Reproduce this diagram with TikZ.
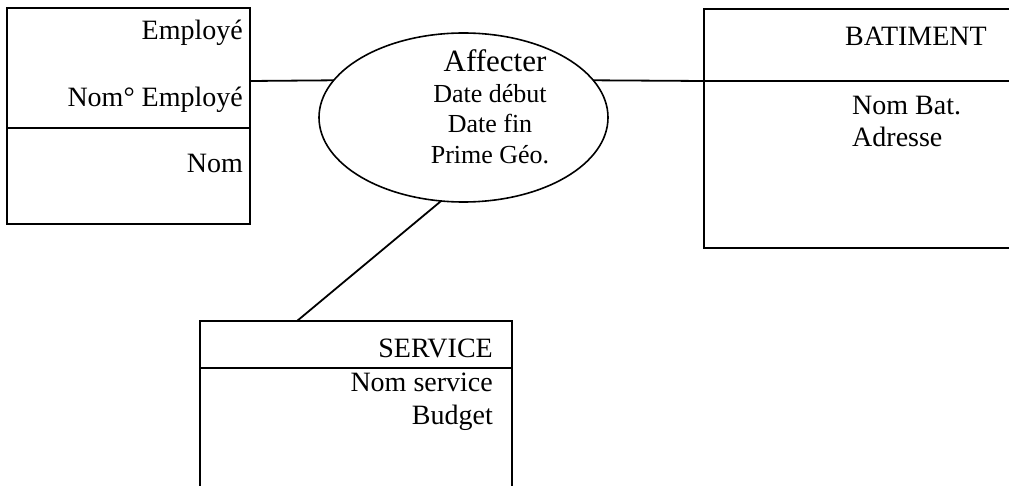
\documentclass[tikz,border=0pt]{standalone}
\usepackage{fontspec}
\setmainfont{Liberation Serif}
\usepackage{tikz}
\usetikzlibrary{shapes.geometric}
\usepackage{xcolor}
\definecolor{inkline}{RGB}{0, 0, 0}
\tikzset{
  % Entites et relation
  entitybox/.style = {draw=inkline, line width=1.9pt, rectangle, inner sep=0pt, outer sep=0pt},
  relation/.style  = {draw=inkline, line width=1.6pt, ellipse, inner sep=0pt, outer sep=0pt,
                      minimum width=289pt, minimum height=169pt},
  % Liens
  link/.style      = {draw=inkline, line width=1.8pt},
  divline/.style   = {draw=inkline, line width=1.9pt},
  % Etiquettes
  lab/.style       = {font=\fontsize{28}{32}\selectfont, inner sep=0pt},
  labrel/.style    = {font=\fontsize{26}{30}\selectfont, inner sep=0pt, anchor=base},
}

\begin{document}
\begin{tikzpicture}[x=1pt, y=-1pt]
  \useasboundingbox (0,0) rectangle (1009,486);
  % Employe
  \node[entitybox, minimum width=243pt, minimum height=216pt] (employe) at (128.5,116) {};
  \draw[divline] (7,128) -- (250,128);
  \node[lab, anchor=base east] (empname) at (243,40) {Employé};
  \node[lab, anchor=base east] (empkey) at (243,107) {Nom° Employé};
  \node[lab, anchor=base east] (empnom) at (243,173) {Nom};
  % Batiment
  \node[entitybox, minimum width=311pt, minimum height=239pt] (batiment) at (859.5,128.5) {};
  \draw[divline] (704,81) -- (1015,81);
  \node[lab, anchor=base west] (batname) at (845,46) {BATIMENT};
  \node[lab, anchor=base west] (batnom) at (852,115) {Nom Bat.};
  \node[lab, anchor=base west] (batadr) at (852,147) {Adresse};
  % Service
  \node[entitybox, minimum width=312pt, minimum height=179pt] (service) at (356,410.5) {};
  \draw[divline] (200,368) -- (512,368);
  \node[lab, anchor=base east] (servname) at (493,357) {SERVICE};
  \node[lab, anchor=base east] (servnom) at (493,391) {Nom service};
  \node[lab, anchor=base east] (servbud) at (493,424) {Budget};
  % Relation Affecter
  \node[relation] (affecter) at (463.5,117.5) {};
  \node[labrel, font=\fontsize{31}{34}\selectfont] (afftitle) at (495,72) {Affecter};
  \node[labrel] (affdeb) at (490,103) {Date début};
  \node[labrel] (afffin) at (490,133) {Date fin};
  \node[labrel] (affprime) at (490,164) {Prime Géo.};
  % Liens
  \coordinate (empport) at (250,81);
  \coordinate (batport) at (704,81);
  \coordinate (servport) at (297,321);
  \draw[link] (empport) -- (affecter.164);
  \draw[link] (affecter.16) -- (batport);
  \draw[link] (affecter.255) -- (servport);
\end{tikzpicture}
\end{document}
